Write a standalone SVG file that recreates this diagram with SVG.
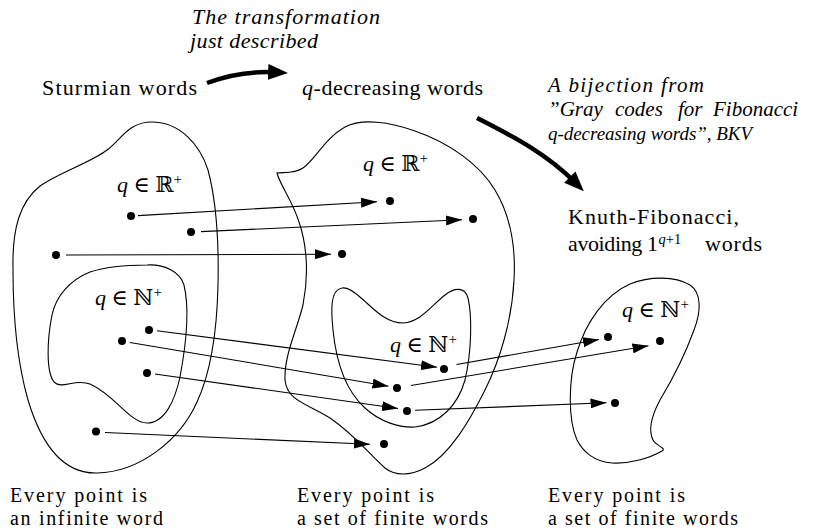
<svg xmlns="http://www.w3.org/2000/svg" width="820" height="529" viewBox="0 0 820 529">
  <defs>
    <style>
      .blob { fill: none; stroke: #000; stroke-width: 1.1; }
      .dot { fill: #000; }
      .map { fill: none; stroke: #000; stroke-width: 1.1; marker-end: url(#tip); }
      .big { fill: none; stroke: #000; stroke-width: 4.5; marker-end: url(#bigtip); }
      text { font-family: "Liberation Serif", "DejaVu Serif", serif; font-size: 22px; fill: #000; }
      .it { font-style: italic; }
      .sup { font-size: 15px; }
      .note { font-size: 20px; }
      .bij { font-size: 21px; }
    </style>
    <marker id="tip" markerUnits="userSpaceOnUse" viewBox="0 0 16 10" refX="16" refY="5" markerWidth="16" markerHeight="10" orient="auto">
      <path d="M0,0 L16,5 L0,10 Z" fill="#000"/>
    </marker>
    <marker id="bigtip" markerUnits="userSpaceOnUse" viewBox="0 0 20 16" refX="8" refY="8" markerWidth="20" markerHeight="16" orient="auto">
      <path d="M0,0 L20,8 L0,16 Z" fill="#000"/>
    </marker>
  </defs>

  <!-- headings -->
  <g id="caption-transformation">
    <text class="it" x="192" y="24" textLength="188" lengthAdjust="spacing">The transformation</text>
    <text class="it" x="190" y="48" textLength="128" lengthAdjust="spacing">just described</text>
  </g>
  <g id="title-sturmian">
    <text x="42" y="95" textLength="155" lengthAdjust="spacing">Sturmian words</text>
  </g>
  <g id="title-qdecreasing">
    <text x="302" y="95" textLength="181" lengthAdjust="spacing"><tspan class="it">q</tspan>-decreasing words</text>
  </g>
  <g id="caption-bijection">
    <text class="it bij" x="548" y="92" textLength="156" lengthAdjust="spacing">A bijection from</text>
    <text class="it bij" y="116"><tspan x="548">”Gray </tspan><tspan x="615">codes </tspan><tspan x="678">for </tspan><tspan x="713">Fibonacci</tspan></text>
    <text class="it" x="548" y="140" style="font-size:19px" textLength="204" lengthAdjust="spacing">q-decreasing words”, BKV</text>
  </g>
  <g id="title-knuth">
    <text x="568" y="224" textLength="171" lengthAdjust="spacing">Knuth-Fibonacci,</text>
    <text x="568" y="251"><tspan textLength="90" lengthAdjust="spacing">avoiding 1</tspan><tspan class="sup" dx="1" dy="-7" style="font-size:14.5px"><tspan class="it">q</tspan>+1</tspan><tspan x="705" dy="7" textLength="57" lengthAdjust="spacing">words</tspan></text>
  </g>

  <!-- left: Sturmian words -->
  <g id="set-sturmian">
    <path class="blob" d="M13,270 C12,228 20,202 40,186 C60,172 90,163 107,150 C121,140 128,122 152,122 C180,122 200,145 208,170 C216,200 219,240 218,285 C217,330 212,370 197,402 C180,440 140,472 97,473 C60,474 40,440 28,400 C18,365 13,320 13,270 Z"/>
    <text x="117" y="192"><tspan class="it">q</tspan> ∈ ℝ<tspan class="sup" dy="-8">+</tspan></text>
    <circle class="dot" cx="131" cy="216" r="4"/>
    <circle class="dot" cx="191" cy="232" r="4"/>
    <circle class="dot" cx="56" cy="255" r="4"/>
    <circle class="dot" cx="96" cy="431.5" r="4"/>
  </g>
  <g id="subset-sturmian">
    <path class="blob" d="M147,265 C165,264 180,272 184,285 C190,310 186,345 180,377 C175,400 165,423 147,423 C130,423 115,395 90,384 C75,378 62,390 54,382 C46,372 47,340 52,315 C56,296 70,280 90,272 C108,266 130,265 147,265 Z"/>
    <text x="95" y="305"><tspan class="it">q</tspan> ∈ ℕ<tspan class="sup" dy="-8">+</tspan></text>
    <circle class="dot" cx="149" cy="330" r="4"/>
    <circle class="dot" cx="122" cy="341" r="4"/>
    <circle class="dot" cx="147" cy="373" r="4"/>
  </g>

  <!-- middle: q-decreasing words -->
  <g id="set-qdecreasing">
    <path class="blob" d="M277,173 C283,172 294,174 303,168 C315,160 325,138 345,127 C362,118 390,122 415,131 C450,143 480,165 495,190 C510,215 516,245 514,280 C512,320 500,360 485,390 C470,420 450,455 425,468 C410,476 395,476 385,468 C370,455 355,435 330,418 C305,403 287,400 285,380 C284,355 297,330 303,305 C309,275 307,245 299,222 C292,200 280,185 277,173 Z"/>
    <text x="363" y="171"><tspan class="it">q</tspan> ∈ ℝ<tspan class="sup" dy="-8">+</tspan></text>
    <circle class="dot" cx="390" cy="201" r="4"/>
    <circle class="dot" cx="473" cy="219" r="4"/>
    <circle class="dot" cx="342" cy="254" r="4"/>
    <circle class="dot" cx="384" cy="444" r="4"/>
  </g>
  <g id="subset-qdecreasing">
    <path class="blob" d="M342,288 C330,290 331,310 333,330 C336,360 345,390 365,408 C380,422 400,428 415,427 C440,424 458,405 465,380 C472,350 472,315 468,298 C465,287 455,287 445,295 C430,307 420,322 403,323 C385,323 372,307 360,297 C352,290 347,287 342,288 Z"/>
    <text x="390" y="352"><tspan class="it">q</tspan> ∈ ℕ<tspan class="sup" dy="-8">+</tspan></text>
    <circle class="dot" cx="444" cy="369" r="4"/>
    <circle class="dot" cx="397" cy="388" r="4"/>
    <circle class="dot" cx="407" cy="411" r="4"/>
  </g>

  <!-- right: Knuth-Fibonacci words -->
  <g id="set-knuth">
    <path class="blob" d="M577,440 C568,420 568,380 577,352 C586,322 605,295 630,284 C650,276 675,276 690,285 C702,293 701,312 694,330 C685,355 672,380 660,400 C652,415 648,430 653,440 C656,446 667,448 662,451 C650,458 630,464 612,463 C595,462 583,452 577,440 Z"/>
    <text x="622" y="317"><tspan class="it">q</tspan> ∈ ℕ<tspan class="sup" dy="-8">+</tspan></text>
    <circle class="dot" cx="608" cy="337" r="4"/>
    <circle class="dot" cx="660" cy="341" r="4"/>
    <circle class="dot" cx="615" cy="403" r="4"/>
  </g>

  <!-- captions under the sets -->
  <g id="note-left">
    <text class="note" x="10" y="502" textLength="137" lengthAdjust="spacing">Every point is</text>
    <text class="note" x="10" y="525" textLength="153" lengthAdjust="spacing">an infinite word</text>
  </g>
  <g id="note-middle">
    <text class="note" x="297" y="502" textLength="137" lengthAdjust="spacing">Every point is</text>
    <text class="note" x="297" y="525" textLength="191" lengthAdjust="spacing">a set of finite words</text>
  </g>
  <g id="note-right">
    <text class="note" x="548" y="502" textLength="137" lengthAdjust="spacing">Every point is</text>
    <text class="note" x="548" y="525" textLength="190" lengthAdjust="spacing">a set of finite words</text>
  </g>

  <!-- connectors -->
  <g id="connectors">
    <path class="big" d="M207,83 C228,75 252,71 276,72.4"/>
    <path class="big" d="M477,118 C510,135 545,152 575.4,182.7"/>
    <path class="map" d="M138,215.6 L377,201.8"/>
    <path class="map" d="M201,231.6 L462,219.8"/>
    <path class="map" d="M66,255 L331,254.2"/>
    <path class="map" d="M157,330.8 L437,367.2"/>
    <path class="map" d="M130,342.5 L388.5,386.2"/>
    <path class="map" d="M155,374 L398,408.5"/>
    <path class="map" d="M105,432.5 L370,444.3"/>
    <path class="map" d="M456.5,364.5 L599,339.5"/>
    <path class="map" d="M411,385.5 L648.5,345.8"/>
    <path class="map" d="M415,410.3 L606.5,402.8"/>
  </g>
</svg>
